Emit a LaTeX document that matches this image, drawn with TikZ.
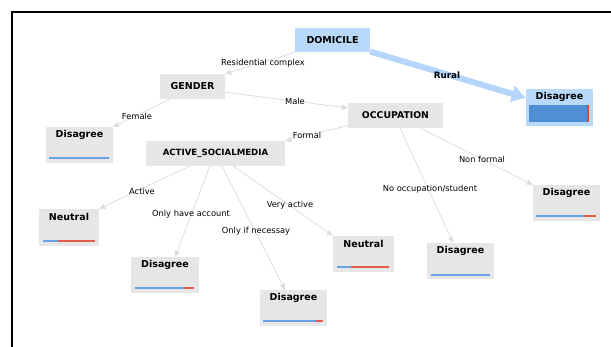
\documentclass[tikz,border=0pt]{standalone}
\usepackage{fontspec}
\setmainfont{DejaVu Sans}
\usetikzlibrary{arrows.meta,calc}
\definecolor{boxgrey}{HTML}{E6E6E6}
\definecolor{boxblue}{HTML}{B9D9FB}
\definecolor{edgegrey}{HTML}{DDDDDD}
\definecolor{barblue}{HTML}{6BA4E6}
\definecolor{barred}{HTML}{E0604F}
\definecolor{fullblue}{HTML}{4F8FD6}
\definecolor{fullred}{HTML}{D94B3C}
\definecolor{ruralblue}{HTML}{B5D5FA}
\tikzset{
  x=1pt,y=-1pt,
  inner box/.style={rectangle, inner sep=0pt, font=\fontsize{9}{10}\selectfont\bfseries},
  split/.style={inner box, fill=boxgrey},
  splitblue/.style={inner box, fill=boxblue},
  leafbox/.style={rectangle, inner sep=0pt, fill=boxgrey},
  leafblue/.style={rectangle, inner sep=0pt, fill=boxblue},
  leaftext/.style={inner sep=0pt, font=\fontsize{9.5}{11}\selectfont\bfseries, anchor=center},
  edge/.style={draw=edgegrey, line width=0.8pt, -{Triangle[length=6pt,width=5.5pt]}},
  elabel/.style={inner sep=0pt, font=\fontsize{8.3}{10}\selectfont},
  bbar/.style={draw=barblue, line width=1.2pt},
  rbar/.style={draw=barred, line width=1.2pt},
}
\begin{document}
\begin{tikzpicture}
\useasboundingbox (0,0) rectangle (611,347);
% frame
\draw[line width=2.3pt] (12,348) -- (12,12) -- (612,12);

% split nodes
\node[splitblue, minimum width=75pt, minimum height=24pt, font=\fontsize{9.5}{11}\selectfont\bfseries] (domicile) at (332.5,40) {DOMICILE};
\node[split, minimum width=65pt, minimum height=25pt, font=\fontsize{9.5}{11}\selectfont\bfseries] (gender) at (192.5,86.5) {GENDER};
\node[split, minimum width=95pt, minimum height=25pt, font=\fontsize{9.3}{11}\selectfont\bfseries] (occ) at (395.5,115.5) {OCCUPATION};
\node[split, minimum width=139pt, minimum height=25pt, font=\fontsize{8.6}{10}\selectfont\bfseries] (asm) at (215.5,153.5) {ACTIVE\_SOCIALMEDIA};

% leaves
\node[leafbox, minimum width=67pt, minimum height=36pt] (dis1) at (79.5,145) {};
\node[leafblue, minimum width=67pt, minimum height=37pt] (rural) at (559.5,107.5) {};
\node[leafbox, minimum width=60pt, minimum height=37pt] (neu1) at (69,227.5) {};
\node[leafbox, minimum width=68pt, minimum height=36pt] (dis2) at (165,275) {};
\node[leafbox, minimum width=67pt, minimum height=36pt] (dis3) at (293.5,308) {};
\node[leafbox, minimum width=61pt, minimum height=36pt] (neu2) at (363.5,254) {};
\node[leafbox, minimum width=67pt, minimum height=36pt] (dis4) at (460.5,261) {};
\node[leafbox, minimum width=67pt, minimum height=36pt] (dis5) at (566.5,203) {};

% leaf texts
\node[leaftext] (t1) at ($(dis1.north)+(0,8)$) {Disagree};
\node[leaftext] (t2) at ($(rural.north)+(0,8)$) {Disagree};
\node[leaftext] (t3) at ($(neu1.north)+(0,8)$) {Neutral};
\node[leaftext] (t4) at ($(dis2.north)+(0,8)$) {Disagree};
\node[leaftext] (t5) at ($(dis3.north)+(0,8)$) {Disagree};
\node[leaftext] (t6) at ($(neu2.north)+(0,8)$) {Neutral};
\node[leaftext] (t7) at ($(dis4.north)+(0,8)$) {Disagree};
\node[leaftext] (t8) at ($(dis5.north)+(0,8)$) {Disagree};

% bars
\draw[bbar] (49,158) -- (109,158);
\fill[fullblue] (529,105) rectangle (586.5,122);
\fill[fullred] (586.5,105) rectangle (589,122);
\draw[bbar] (43,241) -- (58,241); \draw[rbar] (58,241) -- (95,241);
\draw[bbar] (135,288) -- (184,288); \draw[rbar] (184,288) -- (194,288);
\draw[bbar] (263,321) -- (316,321); \draw[rbar] (316,321) -- (323,321);
\draw[bbar] (337,267) -- (351,267); \draw[rbar] (351,267) -- (389,267);
\draw[bbar] (431,275) -- (490,275);
\draw[bbar] (536,216) -- (584,216); \draw[rbar] (584,216) -- (596,216);

% edges
\draw[edge] (domicile.south west) -- (gender.north east);
\draw[draw=ruralblue, line width=6pt, -{Triangle[length=14pt,width=16pt]}] (domicile.-17) -- (rural.164);
\draw[edge] (gender.-10) -- (occ.171);
\draw[edge] (gender.209) -- (dis1.north east);
\draw[edge] (occ.192.5) -- (asm.north east);
\draw[edge] (occ.-27) -- (dis5.north west);
\draw[edge] (occ.-70) -- (dis4.112.6);
\draw[edge] (asm.206) -- (neu1.north east);
\draw[edge] (asm.246) -- (dis2.61);
\draw[edge] (asm.297.5) -- (dis3.115);
\draw[edge] (asm.-35.5) -- (neu2.north west);

% edge labels
\node[elabel] (l1) at (263,63) {Residential complex};
\node[elabel, font=\fontsize{8.8}{10}\selectfont\bfseries] (l2) at (447,75) {Rural};
\node[elabel] (l3) at (295,101) {Male};
\node[elabel] (l4) at (137,116) {Female};
\node[elabel] (l5) at (307,135) {Formal};
\node[elabel] (l6) at (482,159) {Non formal};
\node[elabel] (l7) at (430,189) {No occupation/student};
\node[elabel] (l8) at (142,191) {Active};
\node[elabel] (l9) at (191,214) {Only have account};
\node[elabel] (l10) at (256,231) {Only if necessay};
\node[elabel] (l11) at (290,205) {Very active};
\end{tikzpicture}
\end{document}
